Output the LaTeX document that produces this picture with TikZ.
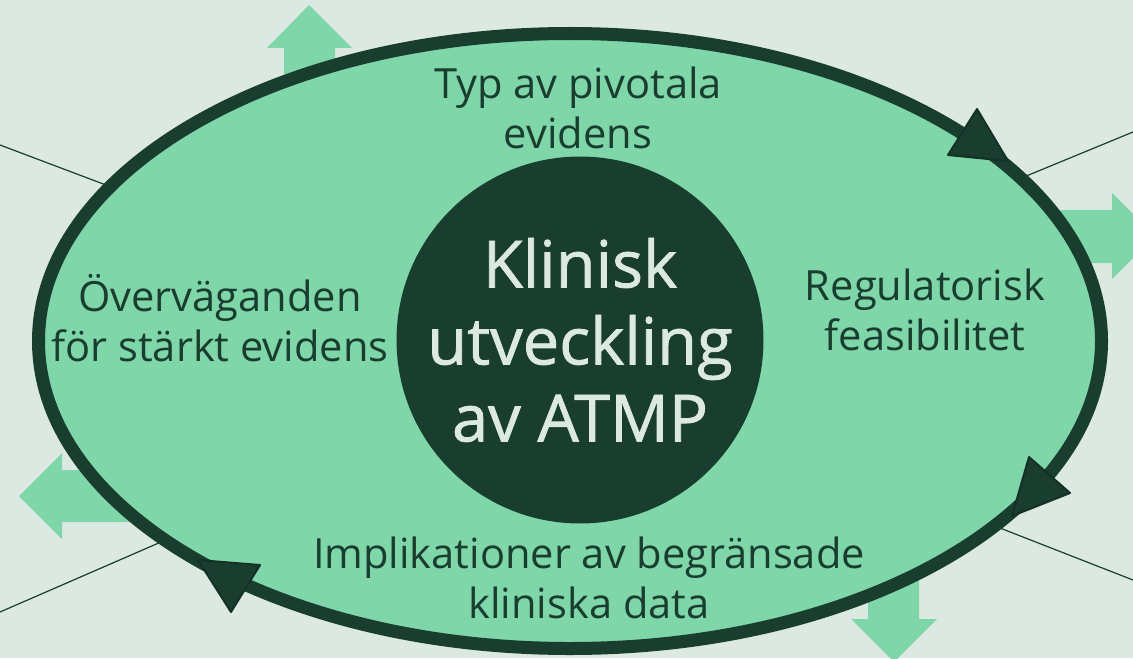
\documentclass[tikz,border=0pt]{standalone}
\usepackage{fontspec}
\setmainfont{Open Sans}
\newfontfamily\corefont[FakeBold=1.2]{Open Sans}
\usepackage{xcolor}
\usetikzlibrary{positioning}

\definecolor{bgmint}{HTML}{DCE9E2}
\definecolor{leaf}{HTML}{7FD6A8}
\definecolor{pine}{HTML}{193D2F}

\begin{document}
\begin{tikzpicture}[
        x=0.5pt, y=-0.5pt,
        every node/.style={font=\fontsize{20.8}{25}\selectfont, text=pine, align=center},
        topic/.style={inner sep=2pt},
        core/.style={circle, fill=pine, minimum size=178pt, inner sep=0pt, text=bgmint,
            font=\corefont\fontsize{32.5}{38.5}\selectfont},
        ring/.style={draw=pine, fill=leaf, line width=6.5pt},
        blockarr/.style={fill=leaf},
        spoke/.style={draw=pine, line width=0.6pt},
        tip/.style={fill=pine, draw=pine!80!black, line width=1pt, line join=round}
    ]
        \useasboundingbox (0,0) rectangle (1133,658);
        \clip (0,0) rectangle (1133,658);
        \fill[bgmint] (0,0) rectangle (1133,658);
        \coordinate (hub) at (575,362);
        % thin lines behind the ring
        \draw[spoke] (0,145) -- (hub);
        \draw[spoke] (1133,132) -- (hub);
        \draw[spoke] (1133,580) -- (hub);
        \draw[spoke] (0,612) -- (hub);
        % block arrows
        \fill[blockarr] (284,200) -- (284,48) -- (267,48) -- (309,5) -- (352,48) -- (335,48) -- (335,200) -- cycle;
        \fill[blockarr] (1000,210) -- (1112,210) -- (1112,193) -- (1155,236) -- (1112,279) -- (1112,263) -- (1000,263) -- cycle;
        \fill[blockarr] (160,470) -- (62,470) -- (62,453) -- (19,496) -- (62,539) -- (62,522) -- (160,522) -- cycle;
        \fill[blockarr] (868,520) -- (868,619) -- (851,619) -- (894,662) -- (937,619) -- (919,619) -- (919,520) -- cycle;
        % the ring
        \draw[ring] (570,341) ellipse [x radius=531.5, y radius=307.5];
        \node[core] (atmp) at (580,340) {Klinisk\\utveckling\\av ATMP};
        \node[topic] (pivotal) at (578,108) {Typ av pivotala\\evidens};
        \node[topic] (feasible) at (925,310) {Regulatorisk\\feasibilitet};
        \node[topic] (limited) at (589,578) {Implikationer av begränsade\\kliniska data};
        \node[topic] (strong) at (220,318) {Överväganden\\för stärkt evidens};
        % arrowheads on the ring
        \filldraw[tip] (977,109) -- (948,155) -- (1008,161) -- cycle;
        \filldraw[tip] (1029,457) -- (1070,493) -- (1012,516) -- cycle;
        \filldraw[tip] (198,560) -- (260,565) -- (231,612) -- cycle;
    \end{tikzpicture}
\end{document}
